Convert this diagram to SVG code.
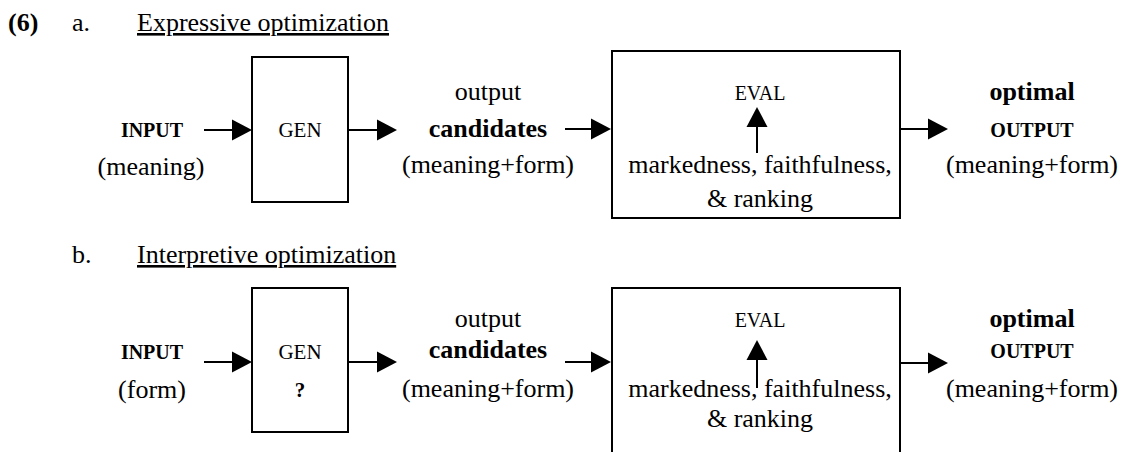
<svg xmlns="http://www.w3.org/2000/svg" width="1123" height="452" viewBox="0 0 1123 452">
<style>
text{font-family:"Liberation Serif","Times New Roman",serif;fill:#000}
.t{font-size:26px}
.c{text-anchor:middle}
.b{font-weight:bold}
.s{font-size:20px}
.g{font-size:21px}
.box{fill:#fff;stroke:#000;stroke-width:2}
.ln{stroke:#000;stroke-width:2;fill:none}
.hd{fill:#000}
</style>
<rect width="1123" height="452" fill="#fff"/>
<g id="title-a">
<text class="t b" x="8" y="31">(6)</text>
<text class="t" x="72" y="31">a.</text>
<text class="t" x="137" y="31" text-decoration="underline">Expressive optimization</text>
</g>
<g id="title-b">
<text class="t" x="72" y="263">b.</text>
<text class="t" x="137" y="263" text-decoration="underline">Interpretive optimization</text>
</g>
<!-- Part a nodes -->
<g id="a-input">
<text class="s b c" x="152" y="137">INPUT</text>
<text class="t c" x="151" y="175">(meaning)</text>
</g>
<g id="a-gen">
<rect class="box" x="252" y="57" width="96" height="145"/>
<text class="g c" x="300" y="137">GEN</text>
</g>
<g id="a-candidates">
<text class="t c" x="488" y="100">output</text>
<text class="t b c" x="488" y="137">candidates</text>
<text class="t c" x="488" y="173">(meaning+form)</text>
</g>
<g id="a-eval">
<rect class="box" x="612" y="51" width="288" height="167"/>
<text class="s c" x="760" y="100">EVAL</text>
<text class="t c" x="760" y="173">markedness, faithfulness,</text>
<text class="t c" x="760" y="207">&amp; ranking</text>
</g>
<g id="a-output">
<text class="t b c" x="1032" y="100">optimal</text>
<text class="s b c" x="1032" y="137">OUTPUT</text>
<text class="t c" x="1032" y="173">(meaning+form)</text>
</g>
<!-- Part b nodes -->
<g id="b-input">
<text class="s b c" x="152" y="359">INPUT</text>
<text class="t c" x="152" y="398">(form)</text>
</g>
<g id="b-gen">
<rect class="box" x="252" y="288" width="96" height="144"/>
<text class="g c" x="300" y="359">GEN</text>
<text class="g b c" x="300" y="397">?</text>
</g>
<g id="b-candidates">
<text class="t c" x="488" y="327">output</text>
<text class="t b c" x="488" y="358">candidates</text>
<text class="t c" x="488" y="397">(meaning+form)</text>
</g>
<g id="b-eval">
<rect class="box" x="612" y="288" width="288" height="175"/>
<text class="s c" x="760" y="327">EVAL</text>
<text class="t c" x="760" y="397">markedness, faithfulness,</text>
<text class="t c" x="760" y="427">&amp; ranking</text>
</g>
<g id="b-output">
<text class="t b c" x="1032" y="327">optimal</text>
<text class="s b c" x="1032" y="358">OUTPUT</text>
<text class="t c" x="1032" y="397">(meaning+form)</text>
</g>
<g id="connectors">
<!-- a -->
<line class="ln" x1="204" y1="130" x2="233" y2="130"/>
<polygon class="hd" points="232,119.5 252,130 232,140.5"/>
<line class="ln" x1="349" y1="130" x2="378" y2="130"/>
<polygon class="hd" points="377,119.5 397,130 377,140.5"/>
<line class="ln" x1="565" y1="129" x2="592" y2="129"/>
<polygon class="hd" points="591,118.5 611,129 591,139.5"/>
<line class="ln" x1="757" y1="153" x2="757" y2="126"/>
<polygon class="hd" points="746.5,127 767.5,127 757,107"/>
<line class="ln" x1="901" y1="129" x2="929" y2="129"/>
<polygon class="hd" points="928,118.5 948,129 928,139.5"/>
<!-- b -->
<line class="ln" x1="204" y1="362" x2="233" y2="362"/>
<polygon class="hd" points="232,351.5 252,362 232,372.5"/>
<line class="ln" x1="349" y1="362" x2="378" y2="362"/>
<polygon class="hd" points="377,351.5 397,362 377,372.5"/>
<line class="ln" x1="565" y1="362" x2="592" y2="362"/>
<polygon class="hd" points="591,351.5 611,362 591,372.5"/>
<line class="ln" x1="757" y1="388" x2="757" y2="359"/>
<polygon class="hd" points="746.5,360 767.5,360 757,340"/>
<line class="ln" x1="901" y1="363" x2="929" y2="363"/>
<polygon class="hd" points="928,352.5 948,363 928,373.5"/>
</g>
</svg>
